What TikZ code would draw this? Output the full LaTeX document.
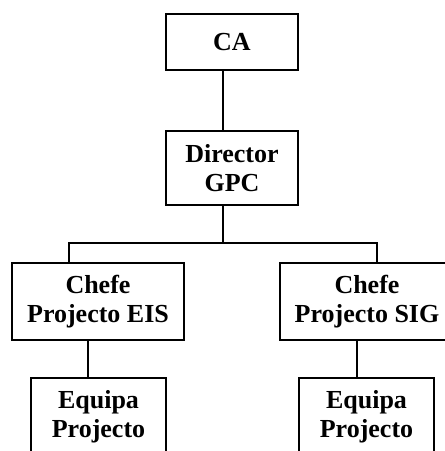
\documentclass[tikz,border=0pt]{standalone}
\usepackage{fontspec}
\setmainfont{Liberation Serif}
\begin{document}
\begin{tikzpicture}[x=1pt,y=-1pt,
  box/.style={draw=black,line width=2.2pt,fill=white,align=center,inner sep=0pt,
    font=\fontsize{26}{29}\selectfont\bfseries},
  link/.style={draw=black,line width=2.2pt}]
\useasboundingbox (0,0) rectangle (445,451);
\clip (0,0) rectangle (445,451);

% boxes of the organisation chart
\node[box,minimum width=132pt,minimum height=56pt] (ca) at (232,42) {CA};
\node[box,minimum width=132pt,minimum height=74pt] (dir) at (232,168) {Director\\GPC};
\node[box,minimum width=172pt,minimum height=77pt] (eis) at (98,301.5) {Chefe\\Projecto EIS};
\node[box,minimum width=174pt,minimum height=77pt] (sig) at (367,301.5) {Chefe\\Projecto SIG};
\node[box,minimum width=135pt,minimum height=77pt] (eq1) at (98.5,416.5) {Equipa\\Projecto};
\node[box,minimum width=135pt,minimum height=77pt] (eq2) at (366.5,416.5) {Equipa\\Projecto};

% x positions of the vertical links and the height of the branch bar
\coordinate (sc) at (223,0);
\coordinate (sl) at (69,0);
\coordinate (sr) at (377,0);
\coordinate (el) at (88,0);
\coordinate (er) at (357,0);
\coordinate (bar) at (0,243);

% links
\draw[link] (ca.south -| sc) -- (dir.north -| sc);
\draw[link] (dir.south -| sc) -- (bar -| sc);
\draw[link] (eis.north -| sl) -- (bar -| sl) -- (bar -| sr) -- (sig.north -| sr);
\draw[link] (eis.south -| el) -- (eq1.north -| el);
\draw[link] (sig.south -| er) -- (eq2.north -| er);
\end{tikzpicture}
\end{document}
